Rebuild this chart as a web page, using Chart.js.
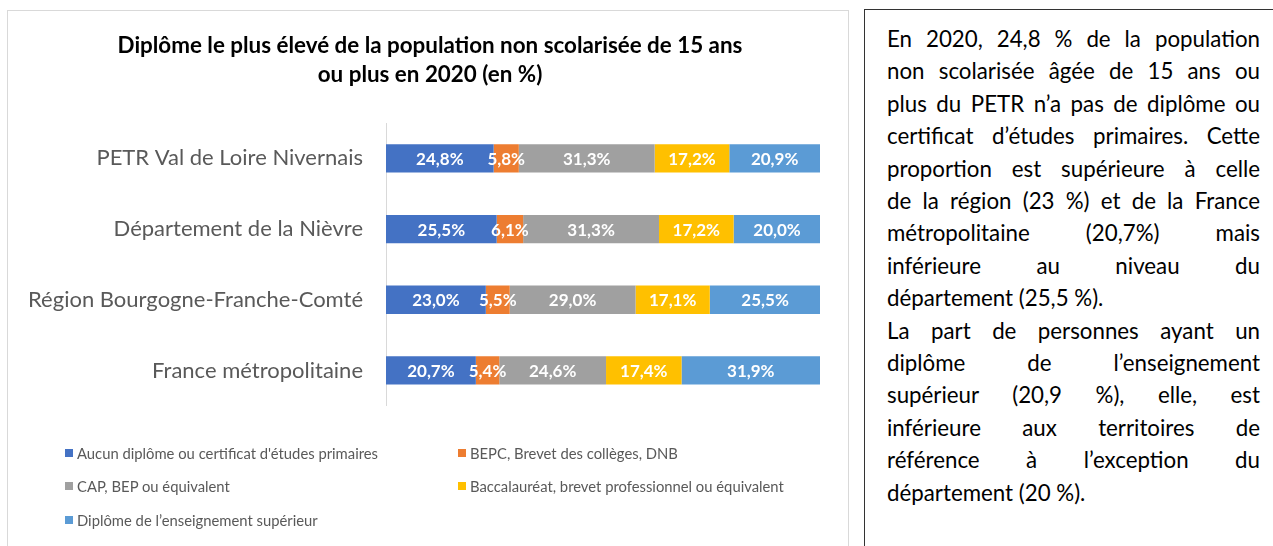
<!DOCTYPE html>
<html>
<head>
  <meta charset="utf-8">
  <title>Diplôme le plus élevé - PETR Val de Loire Nivernais</title>
  <script src="https://cdn.jsdelivr.net/npm/chart.js"></script>
  <style>
    body { margin: 0; background: #fff; font-family: Lato, sans-serif; }
    .chart-box { position: absolute; left: 7px; top: 10px; width: 840px; height: 560px; border: 1px solid #d9d9d9; }
    #diplomeChart { position: absolute; left: 0; top: 0; }
    #legend { position: absolute; left: 65px; top: 436px; display: grid; grid-template-columns: 393px 393px; grid-auto-rows: 33.5px; font-size: 14.8px; color: #595959; }
    #legend div { display: flex; align-items: center; white-space: nowrap; }
    #legend span.box { width: 8px; height: 8px; margin-right: 4px; display: inline-block; }
    .text-box { position: absolute; left: 864px; top: 9px; width: 500px; height: 600px; border-left: 1px solid #333; border-top: 1px solid #333; }
    .text-box .txt { position: absolute; left: 22px; top: 13px; width: 373px; font-size: 22.3px; line-height: 32.4px; color: #000; }
    .txt div { text-align: justify; text-align-last: justify; }
    .txt div.last { text-align-last: left; }
  </style>
</head>
<body>
  <div class="chart-box"></div>
  <canvas id="diplomeChart" width="860" height="442"></canvas>
  <div id="legend"></div>

  <div class="text-box">
    <div class="txt">
      <div>En 2020, 24,8 % de la population</div>
      <div>non scolarisée âgée de 15 ans ou</div>
      <div>plus du PETR n’a pas de diplôme ou</div>
      <div>certificat d’études primaires. Cette</div>
      <div>proportion est supérieure à celle</div>
      <div>de la région (23 %) et de la France</div>
      <div>métropolitaine (20,7%) mais</div>
      <div>inférieure au niveau du</div>
      <div class="last">département (25,5 %).</div>
      <div>La part de personnes ayant un</div>
      <div>diplôme de l’enseignement</div>
      <div>supérieur (20,9 %), elle, est</div>
      <div>inférieure aux territoires de</div>
      <div>référence à l’exception du</div>
      <div class="last">département (20 %).</div>
    </div>
  </div>

  <script>
    const territoires = ['PETR Val de Loire Nivernais', 'Département de la Nièvre', 'Région Bourgogne-Franche-Comté', 'France métropolitaine'];
    const seriesNames = [
      'Aucun diplôme ou certificat d\'études primaires',
      'BEPC, Brevet des collèges, DNB',
      'CAP, BEP ou équivalent',
      'Baccalauréat, brevet professionnel ou équivalent',
      'Diplôme de l’enseignement supérieur'
    ];
    const aucunDiplome = [24.8, 25.5, 23.0, 20.7];
    const bepc = [5.8, 6.1, 5.5, 5.4];
    const capBep = [31.3, 31.3, 29.0, 24.6];
    const bac = [17.2, 17.2, 17.1, 17.4];
    const superieur = [20.9, 20.0, 25.5, 31.9];
    const colors = ['#4472C4', '#ED7D31', '#A0A0A0', '#FFC000', '#5B9BD5'];

    const allSeries = [aucunDiplome, bepc, capBep, bac, superieur];

    // white percentage labels in the middle of each segment
    const segmentLabels = {
      id: 'segmentLabels',
      afterDatasetsDraw(chart) {
        const ctx = chart.ctx;
        ctx.save();
        ctx.font = 'bold 17px Lato';
        ctx.fillStyle = '#fff';
        ctx.textAlign = 'center';
        ctx.textBaseline = 'middle';
        chart.data.datasets.forEach((ds, i) => {
          chart.getDatasetMeta(i).data.forEach((bar, j) => {
            const txt = ds.data[j].toFixed(1).replace('.', ',') + '%';
            ctx.fillText(txt, (bar.x + bar.base) / 2, bar.y + 1);
          });
        });
        ctx.restore();
      }
    };

    const chart = new Chart(document.getElementById('diplomeChart'), {
      type: 'bar',
      data: {
        labels: territoires,
        datasets: allSeries.map((vals, i) => ({
          label: seriesNames[i],
          data: vals,
          backgroundColor: colors[i],
          borderWidth: 0,
          categoryPercentage: 1,
          barPercentage: 0.4
        }))
      },
      options: {
        indexAxis: 'y',
        responsive: false,
        animation: false,
        layout: { padding: 0 },
        scales: {
          x: { stacked: true, min: 0, max: 100, display: false },
          y: {
            stacked: true,
            grid: { display: false, drawTicks: false },
            border: { display: true, color: '#d9d9d9', width: 1 },
            ticks: { color: '#595959', font: { family: 'Lato', size: 22 }, padding: 23 },
            afterFit(scale) { scale.width = 386; }
          },
          // empty right margin so the title stays centred on the whole box
          yRight: {
            type: 'category',
            position: 'right',
            grid: { display: false, drawTicks: false },
            border: { display: false },
            ticks: { display: false },
            afterFit(scale) { scale.width = 40; }
          }
        },
        plugins: {
          legend: { display: false },
          tooltip: { enabled: false },
          title: {
            display: true,
            text: ['Diplôme le plus élevé de la population non scolarisée de 15 ans', 'ou plus en 2020 (en %)'],
            color: '#000',
            font: { family: 'Lato', size: 22.4, weight: 'bold', lineHeight: 29 / 22.4 },
            padding: { top: 31.5, bottom: 33.5 }
          }
        }
      },
      plugins: [segmentLabels]
    });

    const legendBox = document.getElementById('legend');
    chart.data.datasets.forEach(ds => {
      const item = document.createElement('div');
      item.innerHTML = '<span class="box" style="background:' + ds.backgroundColor + '"></span>' + ds.label;
      legendBox.appendChild(item);
    });
  </script>
</body>
</html>
